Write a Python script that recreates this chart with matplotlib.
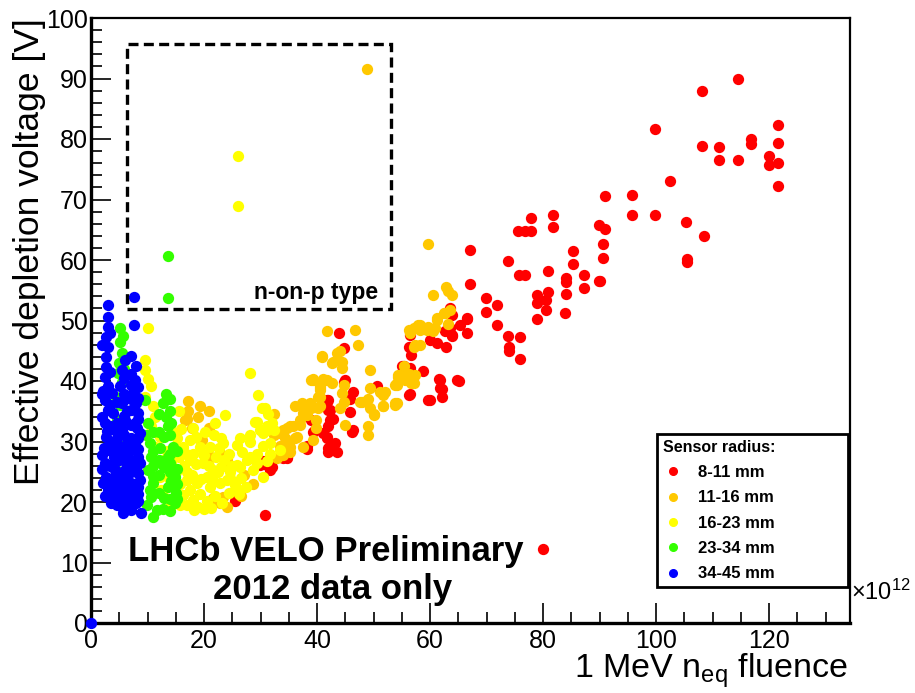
import matplotlib

matplotlib.use("Agg")
import matplotlib.pyplot as plt
from matplotlib.lines import Line2D
from matplotlib.patches import Rectangle
from matplotlib.ticker import MultipleLocator

plt.rcParams["font.family"] = ["Liberation Sans", "DejaVu Sans"]
plt.rcParams["mathtext.fontset"] = "custom"
plt.rcParams["mathtext.rm"] = "Liberation Sans"
plt.rcParams["mathtext.it"] = "Liberation Sans"

# fluence [1e12 neq/cm2], effective depletion voltage [V], one pair of lists per radius band
red_x = [114.4, 108.2, 99.8, 121.6, 121.6, 108.2, 111.2, 116.7, 116.7, 111.2, 114.4, 119.9, 119.9, 121.6,
         121.6, 102.5, 91.0, 95.7, 95.7, 99.8, 105.3, 108.4, 105.4, 105.4, 91.0, 90.6, 90.6, 90.1,
         77.8, 81.8, 81.8, 75.6, 76.8, 77.8, 89.8, 85.2, 85.2, 87.3, 87.3, 89.8, 67.0, 73.7, 75.8, 76.8,
         80.9, 84.0, 84.0, 84.0, 67.0, 69.9, 71.9, 69.9, 78.9, 80.9, 78.9, 80.5, 80.5, 83.9, 78.9, 71.9,
         73.7, 75.9, 73.9, 73.9, 75.9, 66.5, 65.3, 66.5, 63.8, 62.9, 65.1, 61.8, 62.1, 62.1,
         43.8, 63.5, 63.8, 63.8, 62.7, 61.2, 60.0, 56.2, 56.7, 55.0, 56.5, 58.8, 61.5, 61.8, 60.0, 56.2,
         64.7, 45.0, 46.4, 45.8, 45.8, 46.1, 50.6, 42.0, 42.3, 42.9, 42.0, 41.1, 41.7, 42.3, 43.2, 43.6,
         42.0, 39.3, 39.0, 34.6, 56.5, 56.5, 55.3, 56.5, 63.5, 66.5, 31.1, 31.7, 30.5, 34.6, 25.5, 30.8,
         41.7, 41.7, 42.0, 39.6, 28.1, 38.2, 29.9, 80.0, 44.8, 44.7, 41.7, 42.0, 42.3, 46.4, 59.7, 38.2,
         31.1, 32.0, 34.0]
red_y = [90.0, 87.9, 81.6, 82.3, 79.4, 78.9, 78.6, 80.0, 79.2, 76.6, 76.6, 77.2, 75.7, 76.0,
         72.3, 73.0, 70.5, 70.7, 67.5, 67.4, 66.2, 63.9, 60.2, 59.6, 65.2, 62.7, 60.4, 56.5,
         67.0, 67.4, 65.5, 64.8, 64.8, 64.8, 65.8, 61.5, 59.4, 57.5, 55.4, 56.6, 61.6, 59.8, 57.5, 57.6,
         58.1, 57.1, 54.3, 56.3, 56.1, 53.8, 52.6, 51.4, 54.2, 54.7, 52.9, 53.4, 51.7, 51.3, 50.2, 49.2,
         47.4, 47.3, 45.7, 44.9, 43.6, 50.3, 49.3, 48.0, 47.5, 45.7, 40.0, 40.2, 38.7, 37.4,
         48.0, 52.0, 50.9, 47.6, 48.2, 46.2, 46.8, 45.7, 44.3, 42.4, 42.1, 41.6, 40.4, 38.8, 36.9, 37.7,
         40.2, 40.2, 38.2, 37.1, 34.9, 31.6, 39.1, 36.9, 35.2, 33.8, 32.5, 31.4, 30.5, 29.1, 29.7, 28.3,
         28.3, 31.6, 33.6, 27.5, 47.6, 45.7, 42.4, 37.9, 48.7, 50.4, 26.1, 25.3, 26.7, 27.2, 20.1, 17.9,
         36.9, 30.8, 28.9, 31.9, 27.2, 29.2, 26.1, 12.2, 45.5, 39.9, 36.6, 35.2, 33.6, 31.9, 36.9, 28.8,
         26.4, 25.8, 27.2]

orange_x = [48.8, 59.7, 62.9, 63.2, 60.6, 63.8, 62.4, 63.5, 63.2, 61.2, 59.7, 58.2, 57.1, 56.2, 60.6,
            58.2, 57.1, 54.4, 56.2, 57.1, 54.1, 52.0, 51.7, 53.8,
            41.7, 44.1, 40.8, 42.9, 44.4, 39.3, 41.1, 42.6, 44.7, 44.4, 40.5, 40.5, 44.7, 44.1, 37.3, 39.0,
            40.5, 38.2, 39.9, 37.0, 35.8, 34.6, 34.3, 36.1, 35.2, 37.6, 39.9, 39.3, 45.0, 47.6, 49.4, 49.4,
            49.1, 51.1, 51.7, 50.0, 49.1, 49.1, 51.7, 53.8, 53.8, 54.4, 55.6, 55.3, 56.7, 57.9, 59.4, 60.9,
            61.2, 62.7, 57.3,
            17.2, 19.3, 20.8, 17.2, 16.6, 19.0, 17.8, 20.8, 19.0, 32.3, 32.3, 33.5, 34.0, 35.2, 37.0, 36.4,
            34.6, 37.6, 38.8, 37.6, 40.5, 39.3, 33.5, 34.0, 35.2, 32.9, 22.8, 24.0, 23.4, 26.1, 24.0, 22.8,
            21.6, 19.6, 21.3,
            16.9, 49.4, 47.9, 50.0, 54.1, 56.5, 58.2, 57.3, 54.7, 54.1, 40.8, 43.5, 44.4, 42.6, 39.0, 41.7,
            40.5, 40.2, 40.2, 36.1, 46.7, 47.3, 27.0, 28.6, 26.5]
orange_y = [91.6, 62.6, 55.6, 54.8, 54.2, 54.2, 51.2, 51.7, 49.5, 50.1, 49.0, 49.3, 48.7, 48.4, 48.2,
            46.0, 45.7, 41.0, 41.2, 39.6, 39.3, 38.2, 35.8, 36.3,
            48.2, 44.9, 44.1, 43.2, 42.1, 40.3, 40.4, 39.7, 39.3, 38.0, 38.5, 37.4, 36.6, 35.5, 36.3, 35.5,
            35.8, 34.4, 33.6, 32.7, 32.5, 32.2, 30.5, 30.5, 29.1, 29.1, 32.2, 30.2, 32.7, 36.6, 41.8, 38.8,
            37.1, 38.2, 37.7, 34.6, 32.5, 31.1, 35.8, 36.0, 39.3, 40.7, 40.2, 42.4, 39.7, 49.3, 48.4, 48.7,
            50.4, 51.2, 46.0,
            36.7, 35.9, 35.0, 35.0, 33.6, 34.1, 32.2, 32.2, 30.5, 34.6, 31.1, 31.4, 31.9, 32.5, 33.6, 30.8,
            29.7, 35.8, 36.3, 34.7, 39.1, 40.2, 29.2, 27.8, 28.3, 27.2, 28.1, 27.0, 20.9, 21.7, 19.2, 19.8,
            20.6, 30.2, 27.5,
            33.8, 35.5, 36.6, 34.4, 36.3, 47.9, 48.4, 41.0, 41.0, 39.6, 44.0, 44.6, 43.2, 42.9, 40.2, 40.2,
            38.8, 37.4, 35.5, 35.8, 48.4, 46.0, 24.5, 23.0, 21.0]

yellow_x = [26.0, 26.0,
            10.0, 9.5, 9.5, 10.1, 10.7, 9.5, 11.0, 11.3, 10.7, 12.2, 11.3, 12.7, 12.2, 13.0, 13.9, 12.4,
            29.6, 30.8, 29.3, 29.9, 28.1, 31.1, 31.7, 30.5, 23.7, 18.1, 23.4, 25.8, 26.4, 28.1, 26.7, 28.1,
            29.3, 28.7, 29.3, 30.5, 20.5, 18.1, 16.3, 21.3, 24.0, 26.1, 25.5, 24.6, 25.8, 21.6, 19.9, 17.5,
            16.3, 17.5, 19.3, 21.1, 22.2, 16.9, 18.7, 20.5, 22.8, 19.3,
            28.1, 30.2, 31.4, 29.0, 31.1, 32.0, 32.3, 30.5, 33.5, 31.7, 31.1, 27.6, 26.4, 24.6, 24.6, 26.1,
            15.0, 15.5, 15.2, 17.0, 18.0, 20.0, 21.0, 22.0, 23.0, 19.5, 17.5, 15.8, 14.8, 17.0, 19.0, 23.0,
            21.8, 24.5, 22.0, 14.5, 15.5, 13.5,
            15.8, 16.5, 17.8, 18.5, 19.8, 20.8, 21.5, 22.5, 23.5, 24.5, 23.2, 20.0, 18.2, 16.8, 15.2, 18.5,
            20.2, 22.6, 25.0, 26.5, 27.5, 16.0, 14.2, 13.8]
yellow_y = [77.2, 69.0,
            48.7, 43.5, 41.8, 40.4, 39.1, 37.4, 35.8, 34.1, 32.5, 30.8, 29.1, 26.9, 24.2, 20.9, 19.2, 22.0,
            37.7, 35.5, 33.3, 31.9, 31.1, 31.9, 29.7, 29.2, 34.4, 32.2, 29.7, 29.4, 30.5, 30.0, 28.3, 27.5,
            28.0, 25.3, 26.4, 24.2, 20.1, 20.3, 21.2, 19.0, 23.6, 22.0, 22.8, 25.0, 26.1, 25.3, 26.4, 26.9,
            29.1, 30.2, 29.1, 29.1, 27.5, 23.6, 23.1, 24.2, 23.1, 21.4,
            41.4, 35.5, 34.6, 33.3, 32.5, 33.0, 31.9, 31.4, 28.6, 28.0, 26.7, 26.9, 25.8, 25.3, 23.9, 21.4,
            25.0, 27.5, 30.5, 25.0, 28.0, 27.8, 22.5, 21.0, 25.8, 23.8, 22.0, 19.5, 22.5, 19.5, 19.2, 30.5,
            31.0, 28.0, 33.0, 31.5, 35.0, 28.5,
            23.0, 26.0, 24.5, 26.2, 28.0, 26.0, 23.5, 25.0, 27.0, 21.5, 19.8, 18.8, 18.6, 28.0, 29.0, 30.8,
            31.5, 29.0, 26.0, 24.0, 22.5, 32.0, 26.5, 24.0]

green_x = [13.7, 13.7,
           5.1, 5.1, 5.4, 4.8, 5.4, 4.5, 5.1, 4.2, 5.0, 4.6, 4.9, 4.8, 5.3,
           12.7, 13.3, 13.6, 13.0, 14.5, 13.6, 13.0, 14.8, 13.6, 13.0, 14.8, 12.7, 13.2, 14.2, 14.0, 15.0,
           14.2, 12.2,
           9.5, 10.1, 10.4, 10.7, 10.1, 11.0, 10.7, 11.0, 11.6, 9.8, 10.4, 9.9, 10.9,
           12.0, 12.0, 12.0, 12.0, 12.0, 14.0, 14.0, 14.0, 14.0, 14.0, 14.0, 14.0, 15.3, 15.3, 15.3, 15.3,
           11.0, 11.0, 11.0, 5.6, 5.8]
green_y = [60.6, 53.8,
           48.7, 46.5, 44.6, 41.3, 39.9, 37.4, 36.0, 26.4, 43.0, 33.5, 29.5, 23.5, 25.0,
           36.3, 34.1, 32.5, 30.8, 29.1, 27.5, 25.8, 24.2, 22.5, 20.6, 19.8, 18.9, 37.8, 33.0, 26.5, 21.5,
           23.5, 29.0,
           36.9, 33.0, 29.7, 27.5, 25.3, 23.1, 20.9, 17.6, 18.7, 31.0, 22.0, 19.5, 24.3,
           21.5, 24.5, 27.0, 31.5, 34.5, 18.5, 20.5, 25.0, 28.0, 31.0, 35.0, 37.0, 20.5, 23.0, 25.5, 28.5,
           26.0, 28.5, 31.5, 47.5, 42.0]

blue_x = [0.0, 7.6, 7.6,
          3.0, 3.0, 3.0, 2.7, 3.0, 2.7, 2.4, 3.0, 2.4, 3.0, 2.4, 2.7, 3.0, 2.4, 2.7, 3.0, 3.6, 2.6, 2.2,
          2.9, 2.3, 2.1, 2.5,
          3.9, 4.2, 4.5, 4.2, 4.8, 5.4, 5.7, 3.8, 4.0, 3.6, 4.4,
          5.4, 5.1, 5.4, 6.0, 5.4, 6.5, 5.4, 6.2, 6.0, 6.8, 6.2, 7.1, 6.0, 6.3, 6.6, 5.8,
          7.7, 7.4, 8.0, 8.3, 7.7, 8.6, 7.7, 8.3, 7.7, 8.6, 8.3, 8.9, 8.0, 8.1, 8.7, 8.0,
          2.0, 2.0, 2.0, 2.0, 2.0, 3.4, 3.4, 3.4, 3.4, 3.4, 3.4, 3.4, 3.4,
          4.6, 4.6, 4.6, 4.6, 4.6, 4.6, 4.6, 4.6, 4.6,
          5.8, 5.8, 5.8, 5.8, 5.8, 5.8, 5.8, 5.8, 5.8, 5.8,
          7.0, 7.0, 7.0, 7.0, 7.0, 7.0, 7.0, 7.0, 7.0, 7.0, 7.0, 7.0, 7.0,
          8.4, 8.4, 8.4, 8.4, 8.4, 8.4, 8.4, 8.4]
blue_y = [0.0, 53.9, 49.3,
          52.6, 50.6, 49.0, 47.3, 45.7, 44.0, 40.7, 39.1, 36.9, 35.2, 33.0, 30.8, 28.6, 26.4, 24.2, 22.0,
          19.8, 42.3, 38.3, 31.8, 29.0, 23.2, 21.0,
          34.7, 31.9, 29.1, 25.3, 22.0, 19.2, 18.1, 38.0, 27.5, 23.8, 20.5,
          41.8, 39.1, 36.3, 33.6, 31.9, 30.2, 28.0, 26.4, 24.2, 22.0, 20.3, 18.7, 43.5, 35.0, 27.5, 23.0,
          40.2, 38.0, 36.3, 34.7, 33.0, 31.4, 29.7, 27.5, 25.8, 23.6, 21.4, 18.1, 42.5, 32.3, 26.5, 19.8,
          25.5, 27.8, 34.0, 37.8, 46.0, 21.0, 23.0, 26.0, 30.0, 32.5, 36.0, 41.5, 48.0,
          19.5, 21.2, 23.0, 24.2, 26.8, 28.2, 30.5, 33.0, 36.5,
          18.5, 20.0, 21.5, 25.2, 27.0, 29.2, 31.0, 34.2, 37.8, 40.5,
          19.8, 21.0, 23.2, 25.0, 26.8, 28.6, 30.6, 32.8, 35.2, 37.0, 39.3, 41.2, 44.2,
          20.2, 22.5, 24.8, 28.8, 30.5, 33.8, 37.2, 39.0]

labels = ["8-11 mm", "11-16 mm", "16-23 mm", "23-34 mm", "34-45 mm"]
colors = ["#ff0000", "#ffc800", "#ffff00", "#33ff00", "#0000ff"]

W, H = 915, 693
fig = plt.figure(figsize=(W / 100, H / 100), dpi=100)
ax = fig.add_axes([91 / W, 70 / H, 759 / W, 605 / H])

series = [(red_x, red_y), (orange_x, orange_y), (yellow_x, yellow_y), (green_x, green_y), (blue_x, blue_y)]
for i, (xs, ys) in enumerate(series):
    ax.scatter(xs, ys, s=66, c=colors[i], linewidths=0, zorder=3 + i, clip_on=False)

ax.set_xlim(0, 134.3)
ax.set_ylim(0, 100)
ax.set_xticks(range(0, 121, 20))
ax.set_yticks(range(0, 101, 10))
ax.xaxis.set_minor_locator(MultipleLocator(5))
ax.yaxis.set_minor_locator(MultipleLocator(2))
ax.tick_params(which="both", direction="in", top=False, right=False, width=1.2, labelsize=18)
ax.tick_params(axis="x", pad=4.5)
ax.tick_params(axis="y", pad=2.5)
ax.tick_params(which="major", length=14.5)
ax.tick_params(which="minor", length=8)
for side in ["bottom", "left"]:
    ax.spines[side].set_linewidth(2.4)
for side in ["top", "right"]:
    ax.spines[side].set_linewidth(1.6)

# n-on-p box
ax.add_patch(Rectangle((6.4, 51.9), 46.7, 43.8, fill=False, lw=2.4, ls=(0, (3, 1.6)), zorder=2))
ax.text(50.8, 54.7, "n-on-p type", ha="right", va="center", fontsize=16.5, fontweight="bold")

ax.text(41.6, 11.9, "LHCb VELO Preliminary", ha="center", va="center", fontsize=25, fontweight="bold")
ax.text(42.7, 5.5, "2012 data only", ha="center", va="center", fontsize=25, fontweight="bold")

fig.text(30 / W, 1 - 18 / H, "Effective depletion voltage [V]", rotation=90, ha="center", va="top",
         fontsize=25.5)
fig.text(848 / W, 1 - 671 / H, r"1 MeV n$_{\mathrm{eq}}$ fluence", ha="right", va="center", fontsize=24.5)
fig.text(851 / W, 1 - 592 / H, r"×10$^{12}$", ha="left", va="center", fontsize=17)

handles = [Line2D([], [], ls="", marker="o", ms=5.5, mfc=c, mec=c) for c in colors]
leg = ax.legend(handles, labels, title="Sensor radius:", loc="upper left",
                bbox_to_anchor=(657 / W, 1 - 587 / H, 191 / W, 153 / H), bbox_transform=fig.transFigure,
                mode="expand", borderaxespad=0, fancybox=False, framealpha=1, edgecolor="black",
                prop={"weight": "bold", "size": 12}, title_fontproperties={"weight": "bold", "size": 11.5},
                alignment="left", handlelength=1.2, handletextpad=0.9, labelspacing=0.62,
                borderpad=0.35)
leg.get_frame().set_linewidth(2)
leg.set_zorder(20)

fig.savefig("out.png", dpi=100)
